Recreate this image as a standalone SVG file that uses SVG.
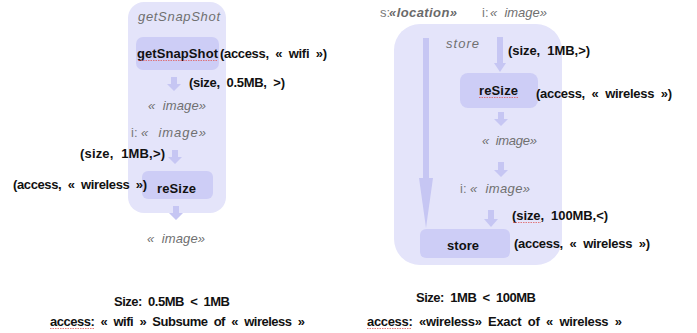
<svg xmlns="http://www.w3.org/2000/svg" width="697" height="333" viewBox="0 0 697 333">
<style>
text{white-space:pre}
.bg{fill:#ffffff}
.cont{fill:#E4E4FA}
.box{fill:#CDCDF6}
.arr{fill:#C6C6F3}
.lbl{font-family:"Liberation Sans Narrow","Liberation Sans",Arial,sans-serif;font-size:13px;font-weight:bold;fill:#111111}
.gi{font-family:"Liberation Sans Narrow","Liberation Sans",Arial,sans-serif;font-size:13px;font-style:italic;fill:#707070}
.gib{font-family:"Liberation Sans Narrow","Liberation Sans",Arial,sans-serif;font-size:13px;font-style:italic;font-weight:bold;fill:#6a6a6a}
.gn{font-family:"Liberation Sans Narrow","Liberation Sans",Arial,sans-serif;font-size:13px;fill:#7a7a7a}
.sq{stroke:#e05a5a;stroke-width:0.8;stroke-dasharray:1.5 1;fill:none}
</style>
<rect class="bg" x="0" y="0" width="697" height="333"/>

<g id="getSnapShot-container">
  <rect class="cont" x="128" y="2" width="98" height="211" rx="16"/>
  <text class="gi" x="138" y="21" textLength="82" lengthAdjust="spacing">getSnapShot</text>
</g>
<g id="store-container">
  <rect class="cont" x="394" y="24" width="168" height="241" rx="26"/>
  <text class="gi" x="446" y="48" textLength="33" lengthAdjust="spacing">store</text>
</g>

<g id="connectors">
  <path class="arr" d="M171,77 h6 v7 h4 l-7,7 l-7,-7 h4 z"/>
  <path class="arr" d="M172,150 h6 v7 h4 l-7,7 l-7,-7 h4 z"/>
  <path class="arr" d="M173,206 h6 v7 h4 l-7,7 l-7,-7 h4 z"/>
  <path class="arr" d="M497,37 h6 v26 h3 l-6,9 l-6,-9 h3 z"/>
  <path class="arr" d="M498,112 h6 v7 h4 l-7,7 l-7,-7 h4 z"/>
  <path class="arr" d="M498,162 h6 v8 h4 l-7,7 l-7,-7 h4 z"/>
  <path class="arr" d="M488,210 h6 v9 h4 l-7,8 l-7,-8 h4 z"/>
  <path class="arr" d="M423,38 h6 v140 h4 l-7,50 l-7,-50 h4 z"/>
</g>

<g id="node-getSnapShot">
  <rect class="box" x="136" y="37" width="83" height="33" rx="7"/>
  <text class="lbl" x="137" y="58" textLength="81" lengthAdjust="spacing">getSnapShot</text>
  <path class="sq" d="M138,60.5 H217"/>
  <text class="lbl" x="220" y="58" textLength="107" lengthAdjust="spacing">(access,  «  wifi  »)</text>
  <text class="lbl" x="189" y="87" textLength="96" lengthAdjust="spacing">(size,  0.5MB,  &gt;)</text>
</g>
<g id="image-left-1">
  <text class="gi" x="148" y="110" textLength="58" lengthAdjust="spacing">«  image»</text>
</g>
<g id="image-left-2">
  <text class="gn" x="131" y="137">i:</text>
  <text class="gi" x="141" y="137" textLength="65" lengthAdjust="spacing">«  image»</text>
  <text class="lbl" x="80" y="158" textLength="85" lengthAdjust="spacing">(size,  1MB,&gt;)</text>
</g>
<g id="node-reSize-left">
  <rect class="box" x="142" y="171" width="71" height="28" rx="6"/>
  <text class="lbl" x="157" y="193" textLength="39" lengthAdjust="spacing">reSize</text>
  <text class="lbl" x="13" y="189" textLength="134" lengthAdjust="spacing">(access,  «  wireless  »)</text>
</g>
<g id="image-left-3">
  <text class="gi" x="147" y="243" textLength="58" lengthAdjust="spacing">«  image»</text>
</g>
<g id="summary-left">
  <text class="lbl" x="114" y="306" textLength="116" lengthAdjust="spacing">Size:  0.5MB  &lt;  1MB</text>
  <text class="lbl" x="50" y="326" textLength="255" lengthAdjust="spacing">access:  «  wifi  »  Subsume  of  «  wireless  »</text>
  <path class="sq" d="M50,328.5 H95"/>
</g>

<g id="inputs-right">
  <text class="gn" x="380" y="17">s:</text>
  <text class="gib" x="389" y="17" textLength="68" lengthAdjust="spacing">«location»</text>
  <text class="gn" x="482" y="17">i:</text>
  <text class="gi" x="490" y="17" textLength="57" lengthAdjust="spacing">«  image»</text>
</g>
<g id="node-reSize-right">
  <text class="lbl" x="508" y="55" textLength="82" lengthAdjust="spacing">(size,  1MB,&gt;)</text>
  <rect class="box" x="460" y="73" width="78" height="35" rx="8"/>
  <text class="lbl" x="479" y="95" textLength="39" lengthAdjust="spacing">reSize</text>
  <path class="sq" d="M479,97.5 H518"/>
  <text class="lbl" x="536" y="98" textLength="136" lengthAdjust="spacing">(access,  «  wireless  »)</text>
</g>
<g id="image-right-1">
  <text class="gi" x="482" y="145" textLength="55" lengthAdjust="spacing">«  image»</text>
</g>
<g id="image-right-2">
  <text class="gn" x="460" y="193">i:</text>
  <text class="gi" x="470" y="193" textLength="60" lengthAdjust="spacing">«  image»</text>
</g>
<g id="node-store">
  <text class="lbl" x="512" y="220" textLength="96" lengthAdjust="spacing">(size,  100MB,&lt;)</text>
  <path class="sq" d="M513,222.5 H541"/>
  <rect class="box" x="420" y="229" width="90" height="29" rx="6"/>
  <text class="lbl" x="447" y="250" textLength="32" lengthAdjust="spacing">store</text>
  <text class="lbl" x="514" y="248" textLength="136" lengthAdjust="spacing">(access,  «  wireless  »)</text>
</g>
<g id="summary-right">
  <text class="lbl" x="416" y="302" textLength="120" lengthAdjust="spacing">Size:  1MB  &lt;  100MB</text>
  <text class="lbl" x="367" y="326" textLength="255" lengthAdjust="spacing">access:  «wireless»  Exact  of  «  wireless  »</text>
  <path class="sq" d="M367,328.5 H412"/>
</g>
</svg>
